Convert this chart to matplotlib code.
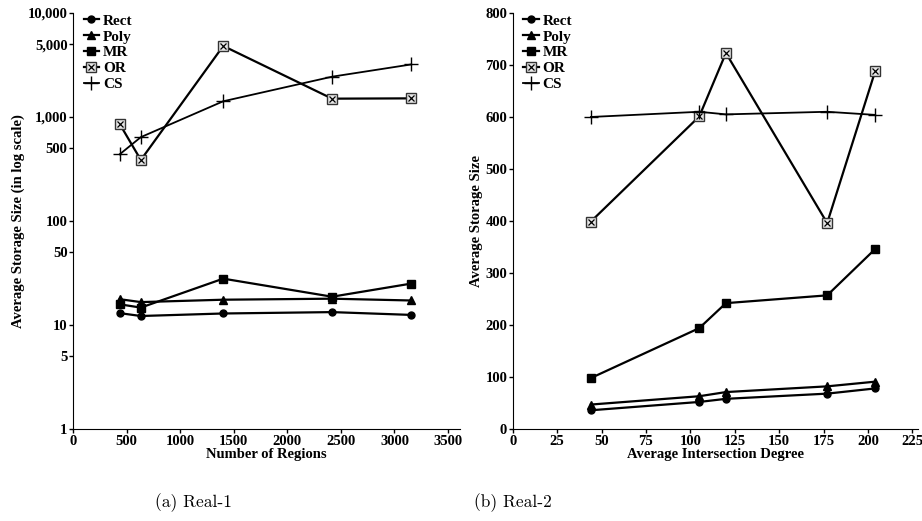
import matplotlib
matplotlib.use('Agg')
import matplotlib.pyplot as plt
from matplotlib.ticker import FixedLocator, NullLocator
from matplotlib.legend_handler import HandlerTuple

plt.rcParams['font.family'] = 'Liberation Serif'
plt.rcParams['font.weight'] = 'bold'
plt.rcParams['axes.labelweight'] = 'bold'
plt.rcParams['font.size'] = 10

# (a) Real-1: storage size vs number of regions (log scale)
regions = [436, 633, 1402, 2418, 3156]
real1_rect = [13.0, 12.2, 12.9, 13.3, 12.5]
real1_poly = [17.7, 16.6, 17.5, 17.9, 17.2]
real1_mr = [15.8, 14.7, 27.9, 18.7, 25.0]
real1_or = [855, 386, 4820, 1500, 1510]
real1_cs = [438, 640, 1416, 2440, 3200]

# (b) Real-2: storage size vs average intersection degree
degree = [44, 105, 120, 177, 204]
real2_rect = [36, 52, 58, 68, 78]
real2_poly = [47, 63, 71, 82, 91]
real2_mr = [98, 194, 242, 257, 346]
real2_or = [399, 601, 723, 396, 688]
real2_cs = [600, 610, 605, 610, 604]

log_ticks = [1, 5, 10, 50, 100, 500, 1000, 5000, 10000]
log_labels = ['1', '5', '10', '50', '100', '500', '1,000', '5,000', '10,000']


def draw_series(ax, x, rect, poly, mr, orr, cs):
    lw = 1.6
    h_rect, = ax.plot(x, rect, color='black', lw=lw, marker='o', ms=5)
    h_poly, = ax.plot(x, poly, color='black', lw=lw, marker='^', ms=6)
    h_mr, = ax.plot(x, mr, color='black', lw=lw, marker='s', ms=6)
    h_or, = ax.plot(x, orr, color='black', lw=lw, marker='s', ms=6.5,
                    mfc='#e6e6e6', mec='#333333', mew=1.0)
    h_orx, = ax.plot(x, orr, ls='none', marker='x', ms=4, mec='black', mew=0.9)
    h_cs, = ax.plot(x, cs, color='black', lw=1.3, marker='+', ms=10, mew=1.0)
    ax.legend([h_rect, h_poly, h_mr, (h_or, h_orx), h_cs],
              ['Rect', 'Poly', 'MR', 'OR', 'CS'],
              handler_map={tuple: HandlerTuple(ndivide=1)},
              loc='upper left', bbox_to_anchor=(0.0, 1.023), frameon=False,
              handlelength=1.0, handletextpad=0.25, labelspacing=0.14,
              borderaxespad=0.3, fontsize=11)
    for side in ('top', 'right'):
        ax.spines[side].set_visible(False)
    ax.tick_params(length=3, width=1, pad=1, labelsize=10.5)


fig = plt.figure(figsize=(9.22, 5.21), dpi=100)

ax1 = fig.add_axes([0.0792, 0.1766, 0.4195, 0.7985])
draw_series(ax1, regions, real1_rect, real1_poly, real1_mr, real1_or, real1_cs)
ax1.set_yscale('log')
ax1.set_ylim(1, 10000)
ax1.yaxis.set_major_locator(FixedLocator(log_ticks))
ax1.yaxis.set_minor_locator(NullLocator())
ax1.set_yticklabels(log_labels)
ax1.set_xlim(0, 3610)
ax1.set_xticks(range(0, 3501, 500))
ax1.set_xlabel('Number of Regions', fontsize=10.5, labelpad=0)
ax1.set_ylabel('Average Storage Size (in log scale)', fontsize=10.5, labelpad=2)

ax2 = fig.add_axes([0.5561, 0.1766, 0.4401, 0.7985])
draw_series(ax2, degree, real2_rect, real2_poly, real2_mr, real2_or, real2_cs)
ax2.set_ylim(0, 800)
ax2.set_yticks(range(0, 801, 100))
ax2.set_xlim(0, 228.4)
ax2.set_xticks(range(0, 226, 25))
ax2.set_xlabel('Average Intersection Degree', fontsize=10.5, labelpad=0)
ax2.set_ylabel('Average Storage Size', fontsize=10.5, labelpad=2)

fig.text(193 / 922, 1 - 503 / 521, '(a) Real-1', family='cmr10', weight='normal',
         fontsize=12.5, ha='center', va='center')
fig.text(513 / 922, 1 - 503 / 521, '(b) Real-2', family='cmr10', weight='normal',
         fontsize=12.5, ha='center', va='center')

fig.savefig('out.png', dpi=100)
plt.close(fig)
